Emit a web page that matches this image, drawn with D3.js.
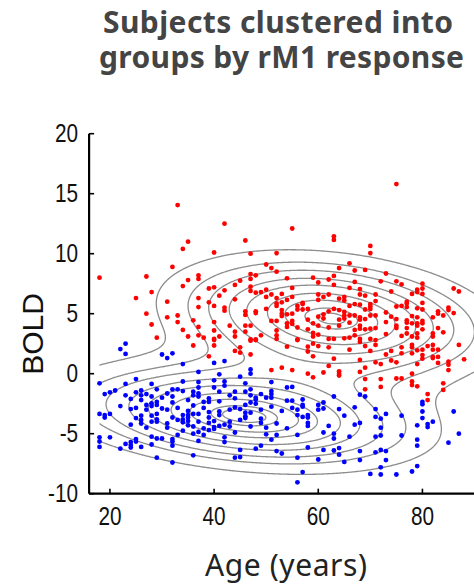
<!DOCTYPE html>
<html><head><meta charset="utf-8">
<script src="https://cdn.jsdelivr.net/npm/d3@7"></script>
<style>html,body{margin:0;padding:0;background:#fff}svg{display:block}</style>
</head><body><svg id="c" width="474" height="585"></svg>
<script>
const titleLines=["Subjects clustered into","groups by rM1 response"];
const xLabel="Age (years)", yLabel="BOLD";
const xTicks=[20,40,60,80], yTicks=[-10,-5,0,5,10,15,20];
const redAge=[33,42,46,35,34,40,47,52,18,27,32,50,51,52,47,48,47,37,37,35,45,44,34,39,40,47,47,48,49,50,51,42,28,41,50,52,25,37,44,31,39,40,37,52,52,42,42,50,48,48,46,46,27,33,31,36,33,40,51,52,28,37,43,46,47,52,34,40,44,46,49,52,29,35,37,38,41,44,40,47,48,52,
75,55,63,63,70,70,66,64,67,69,73,54,59,63,62,60,63,67,72,75,76,80,80,79,80,79,78,55,66,68,74,86,87,53,55,54,60,61,62,64,65,65,68,69,71,60,71,77,77,80,53,57,57,56,56,57,58,66,67,68,70,70,70,69,75,76,77,79,80,85,85,83,83,86,84,82,53,53,53,54,55,63,64,62,61,60,61,65,65,65,64,66,67,68,68,69,70,71,73,74,75,78,79,77,80,80,79,79,78,77,58,59,54,54,55,55,56,60,64,62,66,68,68,69,70,71,67,73,75,75,77,77,79,80,83,84,82,82,73,76,78,79,58,59,59,60,67,56,62,63,65,66,68,70,
36,40,40,39,44,45,45,47,47,48,51,
53,55,58,59,61,62,64,64,64,68,69,69,69,72,72,75,76,78,78,78,79,84,84,81,81,85,85,85,88,87,83,79,75,74,72,71,68,66,63,59,58,58,60,59,62,54,56,68,70,71,74,73,76,76,78,78,78,79,80,80,80,81,82,82,82,82,83,83,71,69];
const redBold=[14.05,12.5,11.1,11,10.4,10.1,10,10.05,8,8.1,8.9,9.1,8.8,8.5,8.3,8.2,7.9,8.2,7.9,7.8,7.75,7.4,7.3,7.1,7.2,7.25,6.9,6.75,6.8,7,6.6,6.95,6.8,6.5,6.4,6.3,6.3,6.3,6.2,6,5.95,5.65,5.55,5.85,5.65,5.5,5.25,5.4,5.2,5.05,5.2,4.9,5,4.85,4.7,4.45,4.3,4.3,4.4,4.4,4.1,3.9,4,4,4,3.6,3.65,3.6,3.5,3.5,3.2,3.2,3,3.1,3.2,3,3.1,3.1,2.9,2.85,2.85,2.9,
15.8,12.1,11.45,11.15,10.65,10.05,9.2,8.8,8.6,8.65,8.35,7.95,8,8.15,7.85,7.6,7.4,7.65,7.7,7.7,7.45,7.5,7.1,7,6.65,6.8,6.65,7.15,7.15,7.05,6.85,7.1,6.85,6.65,6.4,6.15,6.6,6.4,6.6,6.25,6.4,6.1,6.6,6.5,6.6,6.15,6.05,6,5.85,5.9,5.95,5.9,5.8,5.65,5.35,5.35,5.4,5.65,5.8,5.75,5.8,5.6,5.4,5.35,5.6,5.65,5.55,5.45,5.35,5.5,5.3,5.2,5,5.05,4.85,4.7,5.3,5,4.8,4.95,5,5.4,5.3,5.2,4.95,4.75,4.6,5.15,4.85,4.6,4.5,4.85,4.85,4.7,4.5,4.55,4.85,4.85,5.1,4.75,4.55,4.8,4.7,4.45,4.4,4.2,4.2,4,4.2,4.25,4.5,4.2,4.2,3.9,4.4,4.15,3.85,4,4,3.85,4.25,4,3.75,3.7,3.75,3.8,3.65,4.3,4,3.8,3.8,3.35,3.35,3.7,3.8,3.45,3.35,3.1,3.3,3.15,3.1,3,3.7,3.4,3.1,3.25,3.2,2.85,2.9,2.9,2.95,3,2.9,2.9,
2.35,2.8,2.35,1.45,1.9,2.2,1.75,1.6,2.75,2.8,0.3,
0.5,0.3,0,-0.3,0.1,0.65,0.2,0,-0.15,0.15,0.5,-0.45,-1.3,-0.45,-1.1,-0.4,-0.4,0,-0.65,-0.95,-1.05,-0.8,-1.35,-1.7,-2.2,1,0.75,0.3,1.2,2.4,0.9,0.8,0.95,1.1,0.8,0.95,1.15,2,1.25,1.45,1.85,2.25,2.3,2.5,2.2,2.25,2.8,2.65,1.9,2.4,1.9,1.6,2.2,1.7,2.4,2.2,1.7,1.95,2,1.55,1.25,2.3,2.4,2,1.4,1.3,2,1.4,2.8,2.3];
const blueAge=[23,22,23,30,31,32,34,40,42,37,41,47,47,45,18,23,25,28,34,37,40,42,42,46,51,19,20,21,23,25,26,27,26,29,32,33,34,37,36,36,40,41,44,46,47,47,49,51,51,51,50,48,48,43,44,37,37,28,26,24,30,31,32,32,35,38,39,39,41,46,47,48,51,28,28,29,29,27,27,25,24,22,30,33,36,38,44,43,45,49,18,19,20,19,25,26,26,26,28,28,29,29,29,31,32,33,34,34,34,35,35,35,35,35,36,37,36,39,39,39,41,41,40,37,43,45,46,46,46,47,49,49,52,24,27,31,31,38,39,40,40,41,42,43,47,50,34,37,36,38,33,32,28,29,30,42,44,50,52,18,20,18,18,25,25,24,24,24,23,22,26,28,32,32,37,42,51,49,48,45,52,36,44,45,29,32,
54,55,63,68,69,54,55,57,57,57,60,61,61,60,55,56,53,64,67,56,57,58,58,65,71,71,72,73,76,80,80,80,80,79,81,81,82,86,58,58,54,67,68,62,61,56,63,63,66,71,72,72,76,87,85,79,79,58,61,63,64,64,68,71,72,73,53,56,60,65,68,73,72,70,72,75,78,79,57,56];
const blueBold=[2.5,2.05,1.65,1.6,1.3,1.7,0.8,0.9,1.05,0.15,-0.05,0.35,0,-0.25,-0.8,-0.85,-0.45,-0.85,-0.65,-0.7,-0.55,-0.65,-1,-0.8,-0.7,-1.7,-1.55,-1.4,-1.8,-1.55,-1.4,-1.7,-1.8,-1.3,-1.3,-1.3,-1.45,-1.15,-1.5,-1.8,-1.15,-1.5,-1.5,-1.5,-1.3,-1.8,-1.7,-1.45,-1.7,-2,-2,-2,-2.15,-1.8,-2.05,-1.65,-1.9,-1.9,-2.2,-2.1,-2,-1.65,-1.9,-2.4,-2.2,-2.35,-2.05,-2.35,-2.3,-2.6,-2.4,-2.5,-2.75,-2.47,-2.7,-2.35,-2.6,-2.6,-3,-2.85,-2.95,-2.7,-2.9,-2.85,-2.65,-2.85,-2.8,-3,-2.95,-3,-3.35,-3.45,-3.35,-3.65,-3.7,-3.5,-3.85,-4.15,-3.5,-4,-3.35,-3.8,-4,-3,-3.65,-3.85,-3.45,-3.8,-4.05,-3.1,-3.45,-3.65,-3.95,-4.3,-3.35,-3.35,-4.4,-3.2,-3.65,-4.1,-3.15,-3.45,-3.95,-4,-4,-3.85,-3.25,-3.55,-3.7,-3.25,-3.75,-4.1,-4.15,-4.25,-4.5,-4.15,-4.5,-4.55,-4.7,-4.45,-4.6,-4.35,-4.25,-4.4,-4.4,-4.5,-4.75,-4.85,-5,-5.1,-5.1,-5.45,-5.25,-5.4,-5.4,-5.3,-4.9,-5.05,-5.1,-5.3,-5.3,-5.65,-6.1,-5.45,-5.65,-5.7,-5.95,-6.15,-5.85,-6.25,-6.1,-5.9,-5.65,-6,-5.6,-5.7,-5.5,-6,-6.25,-6.35,-6.45,-6.8,-7,-6.95,-7,-7.4,
-1.15,-1.1,-1.9,-1.75,-1.9,-2.25,-2.25,-2.15,-2.6,-2.75,-2.6,-2.4,-2.9,-3,-2.85,-3,-3.1,-2.95,-2.8,-3.45,-3.6,-3.45,-3.65,-3.5,-2.95,-3.6,-3.75,-3.35,-3.5,-2.35,-2.55,-3.15,-3.7,-4.3,-4.2,-4.45,-4,-3.15,-4.1,-4.35,-4.55,-4.25,-4.1,-4.35,-4.9,-5.1,-5,-5.4,-5.25,-5.25,-4.5,-5.15,-5.15,-5,-5.75,-5.5,-6,-6.15,-6.35,-6.4,-6.2,-6.75,-6.45,-6.55,-6.35,-6.45,-6.65,-7,-7.15,-7.35,-7.2,-7.2,-7.8,-8.35,-8.4,-8.4,-8.15,-7.7,-8.2,-9.05];
// Mixture surface behind the contour lines: [mean age, mean BOLD, sd age, sd BOLD, correlation]
const redComponent=[62.4,4.6,18.8,3.2,-0.24];
const blueComponent=[45.4,-3.6,21,2.7,-0.3];
// Contour levels as relative negative log density
const contourLevels=[0.008,0.034,0.11,0.21,0.37,0.54,0.78,1.065,1.59];

const svg=d3.select("#c");
const x=d3.scaleLinear().domain([16,90]).range([89.1,474.5]);
const y=d3.scaleLinear().domain([-10,20]).range([493.7,133.7]);

function pdf(c,a,b){
  const u=(a-c[0])/c[2],v=(b-c[1])/c[3],r=c[4],q=1-r*r;
  return Math.exp(-(u*u-2*r*u*v+v*v)/(2*q));
}
const grid=d3.range(0,110,0.25), gridY=d3.range(-16,24,0.05);
const nx=grid.length,ny=gridY.length,field=new Float64Array(nx*ny);
gridY.forEach((b,j)=>grid.forEach((a,i)=>{
  field[j*nx+i]=Math.log(pdf(redComponent,a,b)+pdf(blueComponent,a,b)+1e-30);
}));
const contours=d3.contours().size([nx,ny]).smooth(true).thresholds(contourLevels.map(d=>-d))(Array.from(field));
const path=d3.geoPath(d3.geoTransform({point(i,j){
  this.stream.point(x(grid[0]+i*0.25),y(gridY[0]+j*0.05));
}}));
svg.append("clipPath").attr("id","clip").append("rect")
  .attr("x",x(18)).attr("y",0).attr("width",474).attr("height",493);
svg.append("g").attr("clip-path","url(#clip)").selectAll("path").data(contours).join("path")
  .attr("d",path).attr("fill","none").attr("stroke","#8c8c8c").attr("stroke-width",1.3);

function dots(ages,vals,col){
  svg.append("g").selectAll("circle").data(ages).join("circle")
    .attr("cx",d=>x(d)).attr("cy",(d,i)=>y(vals[i])).attr("r",2.4).attr("fill",col);
}
dots(redAge,redBold,"#ff0000");
dots(blueAge,blueBold,"#0000ff");

const xa=svg.append("g").attr("transform","translate(0,493.7)")
  .call(d3.axisBottom(x).tickValues(xTicks).tickFormat(String).tickSizeInner(-5).tickSizeOuter(0).tickPadding(14).offset(0));
const ya=svg.append("g").attr("transform","translate(89.1,0)")
  .call(d3.axisLeft(y).tickValues(yTicks).tickFormat(String).tickSizeInner(-5).tickSizeOuter(0).tickPadding(11).offset(0));
[xa,ya].forEach(g=>{
  g.select(".domain").attr("stroke","#000").attr("stroke-width",2.2);
  g.selectAll(".tick line").attr("stroke","#000").attr("stroke-width",1.6);
  g.selectAll("text").attr("font-family","'Liberation Sans',sans-serif")
   .attr("font-size",25).attr("fill","#111")
   .each(function(){
     this.setAttribute("textLength",this.getComputedTextLength()*0.83);
     this.setAttribute("lengthAdjust","spacingAndGlyphs");
   });
});
const titleSpec=[[278,33,350],[281.5,68,365]];
titleLines.forEach((t,i)=>{
  svg.append("text").attr("x",titleSpec[i][0]).attr("y",titleSpec[i][1]).attr("text-anchor","middle")
    .attr("font-family","'Noto Sans','Open Sans',sans-serif").attr("font-weight",700).attr("font-size",30)
    .attr("fill","#444").attr("textLength",titleSpec[i][2]).attr("lengthAdjust","spacing").text(t);
});
svg.append("text").attr("x",286).attr("y",576).attr("text-anchor","middle")
  .attr("font-family","'Noto Sans','Open Sans',sans-serif").attr("font-size",30).attr("fill","#222")
  .attr("textLength",162).text(xLabel);
svg.append("text").attr("transform","translate(43,334) rotate(-90)").attr("text-anchor","middle")
  .attr("font-family","'Liberation Sans',sans-serif").attr("font-size",30).attr("fill","#111").text(yLabel);
</script></body></html>
